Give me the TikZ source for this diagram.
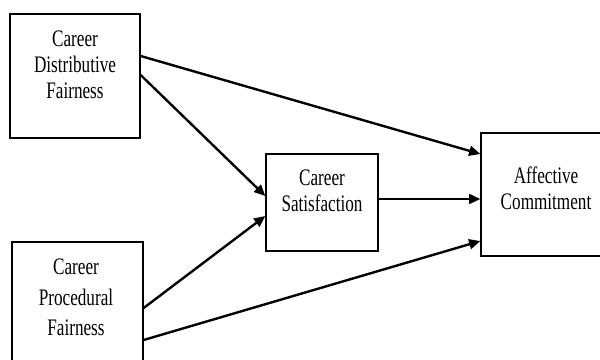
\documentclass[tikz,border=0pt]{standalone}
\usepackage{fontspec}
\setmainfont{Liberation Serif}
\usetikzlibrary{arrows.meta}
\newcommand{\tallstack}[2][13.3]{\scalebox{1}[1.38]{\fontsize{12.2}{#1}\selectfont\begin{tabular}{@{}c@{}}#2\end{tabular}}}
\begin{document}
\begin{tikzpicture}[>={Triangle[length=8pt,width=7pt]}, x=0.025cm, y=-0.025cm,
    box/.style={draw, line width=0.9pt, inner sep=0pt},
    link/.style={->, line width=1.7pt}]
	\clip (0,0) rectangle (600,360);
	% boxes
	\node[box, minimum width=3.25cm, minimum height=3.1cm] (cdf) at (75,76) {};
	\node[box, minimum width=3.275cm, minimum height=3cm] (cpf) at (77.5,302) {};
	\node[box, minimum width=2.8cm, minimum height=2.425cm] (cs) at (322,202.5) {};
	\node[box, minimum width=3.25cm, minimum height=3.075cm] (ac) at (546,194.5) {};
	% labels
	\node (cdftext) at (75,67.5) {\tallstack{Career\\Distributive\\Fairness}};
	\node (cpftext) at (76,299) {\tallstack[15.8]{Career\\Procedural\\Fairness}};
	\node (cstext) at (322,193.5) {\tallstack{Career\\Satisfaction}};
	\node (actext) at (546,191.5) {\tallstack{Affective\\Commitment}};
	% paths
	\draw[link] (cdf.east |- 0,56) -- (ac.west |- 0,154);
	\draw[link] (cdf.east |- 0,75) -- (cs.west |- 0,196);
	\draw[link] (cpf.east |- 0,308) -- (cs.west |- 0,216);
	\draw[link] (cpf.east |- 0,340) -- (ac.west |- 0,241);
	\draw[link] (cs.east |- 0,199) -- (ac.west |- 0,199);
\end{tikzpicture}
\end{document}
